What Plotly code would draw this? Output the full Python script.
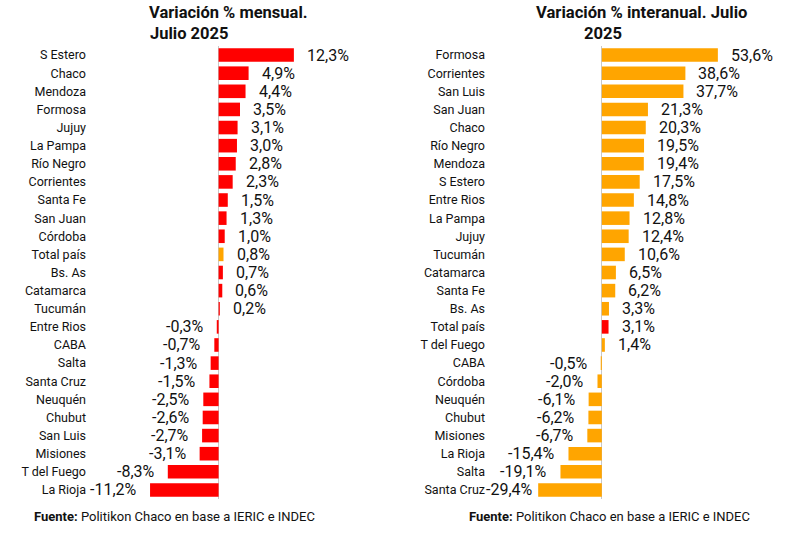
import plotly.graph_objects as go

# ---- Data ----
mensual_cats = ["S Estero", "Chaco", "Mendoza", "Formosa", "Jujuy", "La Pampa", "Río Negro",
                "Corrientes", "Santa Fe", "San Juan", "Córdoba", "Total país", "Bs. As",
                "Catamarca", "Tucumán", "Entre Rios", "CABA", "Salta", "Santa Cruz",
                "Neuquén", "Chubut", "San Luis", "Misiones", "T del Fuego", "La Rioja"]
mensual_vals = [12.3, 4.9, 4.4, 3.5, 3.1, 3.0, 2.8, 2.3, 1.5, 1.3, 1.0, 0.8, 0.7, 0.6, 0.2,
                -0.3, -0.7, -1.3, -1.5, -2.5, -2.6, -2.7, -3.1, -8.3, -11.2]

interanual_cats = ["Formosa", "Corrientes", "San Luis", "San Juan", "Chaco", "Río Negro",
                   "Mendoza", "S Estero", "Entre Rios", "La Pampa", "Jujuy", "Tucumán",
                   "Catamarca", "Santa Fe", "Bs. As", "Total país", "T del Fuego", "CABA",
                   "Córdoba", "Neuquén", "Chubut", "Misiones", "La Rioja", "Salta", "Santa Cruz"]
interanual_vals = [53.6, 38.6, 37.7, 21.3, 20.3, 19.5, 19.4, 17.5, 14.8, 12.8, 12.4, 10.6,
                   6.5, 6.2, 3.3, 3.1, 1.4, -0.5, -2.0, -6.1, -6.2, -6.7, -15.4, -19.1, -29.4]

title_left = ["Variación % mensual.", "Julio 2025"]
title_right = ["Variación % interanual. Julio", "2025"]
source_bold = "Fuente:"
source_text = " Politikon Chaco en base a IERIC e INDEC"
highlight = "Total país"

RED = "#FF0000"
ORANGE = "#FFA500"
FONT = "Roboto, Liberation Sans, Arial, sans-serif"
W, H = 800, 541


def px_x(x):
    return x / W


def px_y(y):
    return 1 - y / H


def fmt(v):
    return f"{v:.1f}%".replace(".", ",")


fig = go.Figure()

ydom = [px_y(499), px_y(46)]
left_dom = [px_x(87), px_x(360)]
left_rng = [-21.5, 23.1]
right_dom = [px_x(486), px_x(780)]
right_rng = [-53.5, 82.3]


def zero_pos(dom, rng):
    return dom[0] + (0 - rng[0]) / (rng[1] - rng[0]) * (dom[1] - dom[0])


n = len(mensual_cats)

fig.add_trace(go.Bar(
    x=mensual_vals, y=mensual_cats, orientation="h",
    marker=dict(color=[ORANGE if c == highlight else RED for c in mensual_cats], line=dict(width=0)),
    xaxis="x", yaxis="y", hoverinfo="skip", showlegend=False))
fig.add_trace(go.Bar(
    x=interanual_vals, y=interanual_cats, orientation="h",
    marker=dict(color=[RED if c == highlight else ORANGE for c in interanual_cats], line=dict(width=0)),
    xaxis="x2", yaxis="y2", hoverinfo="skip", showlegend=False))

annotations = []
for cats, vals, xr, yr, dom, rng in [(mensual_cats, mensual_vals, "x", "y", left_dom, left_rng),
                                     (interanual_cats, interanual_vals, "x2", "y2", right_dom, right_rng)]:
    scale = (dom[1] - dom[0]) * W / (rng[1] - rng[0])  # px per unit
    for c, v in zip(cats, vals):
        shift = 11
        if v < 0:
            # keep the label clear of the category labels (as in the reference)
            room = (v - rng[0]) * scale - 3
            shift = max(1, min(11, room - 46))
        annotations.append(dict(
            x=v, y=c, xref=xr, yref=yr, text=fmt(v), showarrow=False,
            xanchor="left" if v >= 0 else "right", xshift=shift if v >= 0 else -shift,
            font=dict(size=16, color="#111111", family=FONT)))

TFL = dict(size=16.5, color="#111", family=FONT)
TFR = dict(size=16.6, color="#111", family=FONT)
annotations.append(dict(x=px_x(147), y=px_y(13), xref="paper", yref="paper", text=f"<b>{title_left[0]}</b>",
                        showarrow=False, xanchor="left", yanchor="middle", font=TFL))
annotations.append(dict(x=px_x(148), y=px_y(33), xref="paper", yref="paper", text=f"<b>{title_left[1]}</b>",
                        showarrow=False, xanchor="left", yanchor="middle", font=TFL))
annotations.append(dict(x=px_x(534), y=px_y(13), xref="paper", yref="paper", text=f"<b>{title_right[0]}</b>",
                        showarrow=False, xanchor="left", yanchor="middle", font=TFR))
annotations.append(dict(x=px_x(582), y=px_y(33), xref="paper", yref="paper", text=f"<b>{title_right[1]}</b>",
                        showarrow=False, xanchor="left", yanchor="middle", font=TFR))
for xpx in (32, 467):
    annotations.append(dict(x=px_x(xpx), y=px_y(516), xref="paper", yref="paper",
                            text=f"<b>{source_bold}</b>{source_text}", showarrow=False,
                            xanchor="left", yanchor="middle", font=dict(size=13, color="#111", family=FONT)))

boundaries = [i - 0.5 for i in range(n + 1)]
tick_axis = dict(anchor="free", type="linear", range=[n - 0.5, -0.5], domain=ydom,
                 tickmode="array", tickvals=boundaries, showticklabels=False, ticks="outside",
                 ticklen=4, tickcolor="#c8c8c8", tickwidth=1, showgrid=False, zeroline=False,
                 showline=False, side="left", automargin=False)

fig.update_layout(
    template="none",
    width=W, height=H, margin=dict(l=0, r=0, t=0, b=0, pad=0, autoexpand=False),
    paper_bgcolor="white", plot_bgcolor="white",
    bargap=0.25,
    xaxis=dict(domain=left_dom, range=left_rng, anchor="y", showticklabels=False, showgrid=False,
               zeroline=True, zerolinecolor="#c8c8c8", zerolinewidth=1, showline=False, ticks="",
               automargin=False),
    yaxis=dict(domain=ydom, type="category", categoryorder="array", categoryarray=mensual_cats,
               range=[n - 0.5, -0.5], showgrid=False, ticks="", showline=False, anchor="x",
               automargin=False, tickfont=dict(size=12.5, color="#111", family=FONT)),
    xaxis2=dict(domain=right_dom, range=right_rng, anchor="y2", showticklabels=False, showgrid=False,
                zeroline=True, zerolinecolor="#c8c8c8", zerolinewidth=1, showline=False, ticks="",
                automargin=False),
    yaxis2=dict(domain=ydom, type="category", categoryorder="array", categoryarray=interanual_cats,
                range=[n - 0.5, -0.5], showgrid=False, ticks="", showline=False, anchor="x2",
                automargin=False, tickfont=dict(size=12.5, color="#111", family=FONT)),
    yaxis3={**tick_axis, "overlaying": "y", "position": zero_pos(left_dom, left_rng)},
    yaxis4={**tick_axis, "overlaying": "y2", "position": zero_pos(right_dom, right_rng)},
    annotations=annotations,
)

fig.write_html("out.html", config={"displayModeBar": False, "staticPlot": True},
               post_script="document.body.style.margin='0';")
